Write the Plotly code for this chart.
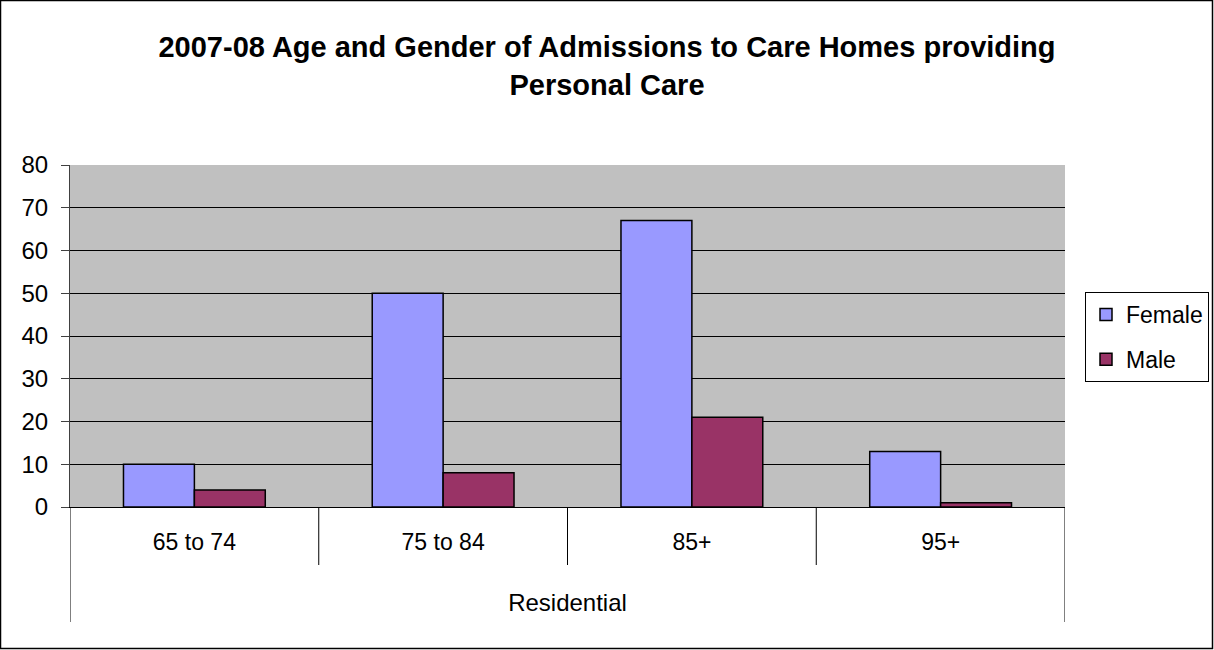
import plotly.graph_objects as go

# Admissions to care homes providing personal care, 2007-08
age_bands = ["65 to 74", "75 to 84", "85+", "95+"]
female = [10, 50, 67, 13]
male = [4, 8, 21, 1]
group_label = "Residential"
y_ticks = [0, 10, 20, 30, 40, 50, 60, 70, 80]

W, H = 1214, 650
ML, MR, MT, MB = 70, 149, 165, 143
PW, PH = W - ML - MR, H - MT - MB

FONT = "Liberation Sans, Arial, sans-serif"

fig = go.Figure()
fig.add_trace(go.Bar(name="Female", x=age_bands, y=female, legendgroup="f",
                     marker=dict(color="#9999FF", line=dict(color="black", width=1.5))))
fig.add_trace(go.Bar(name="Male", x=age_bands, y=male, legendgroup="m",
                     marker=dict(color="#993366", line=dict(color="black", width=1.5))))

shapes = []
# category dividers below the axis
for i in range(len(age_bands) + 1):
    edge = i in (0, len(age_bands))
    shapes.append(dict(type="line", xref="x", yref="paper",
                       x0=i - 0.5, x1=i - 0.5, y0=0, y1=-(115 if edge else 58) / PH,
                       line=dict(color="black", width=1)))
# outer chart frame
shapes.append(dict(type="rect", xref="paper", yref="paper",
                   x0=-ML / PW + 0.5 / PW, x1=1 + (MR - 1.5) / PW,
                   y0=-(MB - 1.5) / PH, y1=1 + (MT - 0.5) / PH,
                   line=dict(color="black", width=1.5), fillcolor="rgba(0,0,0,0)"))

fig.update_layout(
    width=W, height=H,
    margin=dict(l=ML, r=MR, t=MT, b=MB, autoexpand=False),
    paper_bgcolor="white", plot_bgcolor="#C0C0C0",
    font=dict(family=FONT, color="black"),
    barmode="group", bargap=0.43, bargroupgap=0,
    title=dict(text="<b>2007-08 Age and Gender of Admissions to Care Homes providing<br>Personal Care</b>",
               x=(W / 2 - ML) / PW, xref="paper", xanchor="center", y=1 - 57 / H, yanchor="top",
               font=dict(size=29, family=FONT)),
    xaxis=dict(type="category", range=[-0.5, len(age_bands) - 0.5],
               showline=True, linecolor="black", linewidth=1, showgrid=False,
               ticks="", tickfont=dict(size=23), ticklabelstandoff=14,
               title=dict(text=group_label, font=dict(size=24), standoff=40)),
    yaxis=dict(range=[0, 80], tickvals=y_ticks, showline=True, linecolor="#404040", linewidth=1,
               showgrid=True, gridcolor="black", gridwidth=1, zeroline=False,
               ticks="outside", ticklen=8, tickcolor="#404040",
               ticklabelstandoff=8, tickfont=dict(size=24)),
    legend=dict(x=(1085 - ML) / PW, y=(H - MB - 292) / PH, xanchor="left", yanchor="top",
                bordercolor="black", borderwidth=1, bgcolor="white",
                traceorder="grouped", tracegroupgap=12,
                font=dict(size=23, family=FONT)),
    shapes=shapes,
)

fig.write_html("out.html")
